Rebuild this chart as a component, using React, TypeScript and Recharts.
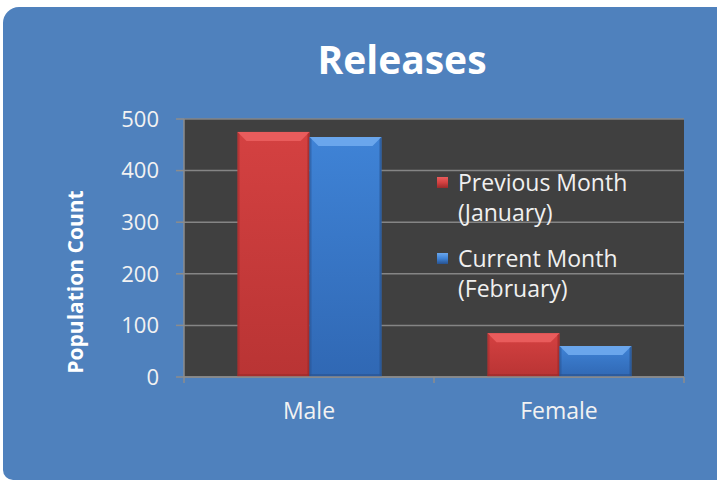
import React from 'react';
import { BarChart, Bar, XAxis, YAxis, CartesianGrid } from 'recharts';

// categories and series values
const categories = ['Male', 'Female'];
const previousMonth = [475, 85];
const currentMonth = [465, 60];
const yTicks = [0, 100, 200, 300, 400, 500];

const seriesNames = ['Previous Month (January)', 'Current Month (February)'];

const data = categories.map((name, i) => ({
  name,
  prev: previousMonth[i],
  curr: currentMonth[i],
}));

const FONT = '"Open Sans", "Noto Sans", sans-serif';
const PLOT_LEFT = 184;
const PLOT_RIGHT = 684;

const palette = {
  red: { top: '#e95c5c', body1: '#d44141', body2: '#b93434', dark: '#9a2a2a' },
  blue: { top: '#6aa6ec', body1: '#3f83d6', body2: '#3068b4', dark: '#28528f' },
};

// bar with a bevelled top, like the Office "3D" bar style
const bevelBar = (key: 'red' | 'blue') => (props: any) => {
  const { x, y, width, height } = props;
  if (!height || height <= 0) return <g />;
  const c = palette[key];
  const b = Math.min(9, height / 3);
  const id = `grad-${key}`;
  return (
    <g>
      <defs>
        <linearGradient id={id} x1="0" y1="0" x2="0" y2="1">
          <stop offset="0%" stopColor={c.body1} />
          <stop offset="100%" stopColor={c.body2} />
        </linearGradient>
      </defs>
      <rect x={x} y={y} width={width} height={height} fill={`url(#${id})`} />
      <polygon points={`${x},${y} ${x + width},${y} ${x + width - b},${y + b} ${x + b},${y + b}`} fill={c.top} />
      <polygon points={`${x},${y} ${x + 2},${y + 2} ${x + 2},${y + height - 2} ${x},${y + height}`} fill={c.dark} opacity={0.5} />
      <polygon points={`${x + width},${y} ${x + width - 2},${y + 2} ${x + width - 2},${y + height - 2} ${x + width},${y + height}`} fill={c.dark} opacity={0.7} />
      <rect x={x} y={y + height - 3} width={width} height={3} fill={c.dark} opacity={0.6} />
    </g>
  );
};

const XTick = (props: any) => {
  const { x, y, payload, index } = props;
  const half = (PLOT_RIGHT - PLOT_LEFT) / categories.length / 2;
  const axisY = y - 6 - 20;
  return (
    <g>
      <line x1={x - half} y1={axisY} x2={x - half} y2={axisY + 6} stroke="#8c8c8c" strokeWidth={1.5} />
      {index === categories.length - 1 && (
        <line x1={x + half} y1={axisY} x2={x + half} y2={axisY + 6} stroke="#8c8c8c" strokeWidth={1.5} />
      )}
      <text x={x} y={y} dy="0.71em" textAnchor="middle" fill="#f2f2f2" fontSize={23} fontFamily={FONT}>
        {payload.value}
      </text>
    </g>
  );
};

const LegendBox = () => {
  const items = [
    { label: seriesNames[0], key: 'red' as const },
    { label: seriesNames[1], key: 'blue' as const },
  ];
  return (
    <div style={{ fontFamily: FONT }}>
      {items.map((it, i) => (
        <div key={it.label} style={{ display: 'flex', alignItems: 'flex-start', marginBottom: i === 0 ? 16 : 0 }}>
          <div
            style={{
              width: 11,
              height: 11,
              marginTop: 10,
              marginRight: 10,
              flex: 'none',
              background: `linear-gradient(${palette[it.key].top}, ${palette[it.key].body1} 50%, ${palette[it.key].dark})`,
            }}
          />
          <div style={{ color: '#f0f0f0', fontSize: 23, lineHeight: '30px', width: 200 }}>{it.label}</div>
        </div>
      ))}
    </div>
  );
};

export default function App() {
  return (
    <div style={{ position: 'absolute', left: 0, top: 0, width: 717, height: 481, background: '#fff', overflow: 'hidden' }}>
      {/* blue chart panel */}
      <div
        style={{
          position: 'absolute',
          left: 3,
          top: 7,
          width: 730,
          height: 473,
          background: '#4f81bd',
          borderRadius: '16px 0 0 10px',
        }}
      />
      <div
        style={{
          position: 'absolute',
          left: 0,
          top: 33,
          width: 804,
          textAlign: 'center',
          color: '#fff',
          fontFamily: FONT,
          fontWeight: 700,
          fontSize: 39,
          lineHeight: '52px',
        }}
      >
        Releases
      </div>
      <div style={{ position: 'absolute', left: 0, top: 0 }}>
        <BarChart
          width={717}
          height={481}
          data={data}
          margin={{ top: 119, right: 33, bottom: 74, left: 0 }}
          barCategoryGap="21.4%"
          barGap={0}
        >
          <CartesianGrid vertical={false} fill="#404040" stroke="#858585" strokeWidth={1.5} />
          <XAxis
            dataKey="name"
            height={30}
            axisLine={{ stroke: '#8c8c8c', strokeWidth: 1.5 }}
            tickLine={false}
            tickSize={6}
            tickMargin={20}
            tick={<XTick />}
          />
          <YAxis
            width={184}
            domain={[0, 500]}
            ticks={yTicks}
            interval={0}
            axisLine={{ stroke: '#8c8c8c', strokeWidth: 1.5 }}
            tickLine={{ stroke: '#8c8c8c', strokeWidth: 1.5 }}
            tickSize={8}
            tickMargin={17}
            tick={{ fill: '#f2f2f2', fontSize: 22, fontFamily: FONT }}
            label={{
              content: () => (
                <text
                  x={75}
                  y={282}
                  transform="rotate(-90 75 282)"
                  textAnchor="middle"
                  dominantBaseline="central"
                  fill="#fff"
                  fontWeight={700}
                  fontSize={21}
                  fontFamily={FONT}
                >
                  Population Count
                </text>
              ),
            }}
          />
          <YAxis
            yAxisId="border"
            orientation="right"
            width={0}
            tick={false}
            tickLine={false}
            axisLine={{ stroke: '#8c8c8c', strokeWidth: 1.5 }}
          />
          <Bar dataKey="prev" name={seriesNames[0]} isAnimationActive={false} shape={bevelBar('red')} />
          <Bar dataKey="curr" name={seriesNames[1]} isAnimationActive={false} shape={bevelBar('blue')} />
        </BarChart>
      </div>
      {/* legend sits inside the plot area, as in the original */}
      <div style={{ position: 'absolute', left: 437, top: 167, width: 240 }}>
        <LegendBox />
      </div>
    </div>
  );
}
